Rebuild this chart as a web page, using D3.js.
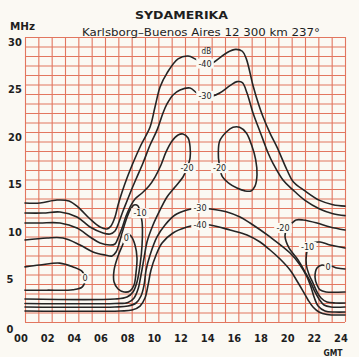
<!DOCTYPE html>
<html>
<head>
<meta charset="utf-8">
<script src="https://cdn.jsdelivr.net/npm/d3@7/dist/d3.min.js"></script>
<style>
  html, body { margin: 0; padding: 0; background: #fbf9f3; }
  svg { display: block; }
  text { font-family: "DejaVu Sans Condensed", "DejaVu Sans", sans-serif; fill: #1e1e1e; }
</style>
</head>
<body>
<svg id="chart" width="359" height="357"></svg>
<script>
// Axis ticks
const hourTicks = [0, 2, 4, 6, 8, 10, 12, 14, 16, 18, 20, 22, 24];
const mhzTicks = [0, 5, 10, 15, 20, 25, 30];

// Field-strength contours, [hour GMT, MHz]
const m40Upper = [[0,12.53],[1.13,12.53],[2.4,12.84],[3.3,12.74],[3.98,12.1],[4.88,10.84],[5.63,10.0],[6.15,9.79],[6.45,10.1],[6.75,11.05],[6.98,12.32],[7.28,13.68],[7.65,15.16],[8.1,16.74],[8.7,18.63],[9.38,20.53],[9.75,22.63],[10.13,24.74],[10.65,26.2],[11.48,27.7],[12.23,28.0],[12.75,27.7],[13.13,27.37],[13.5,27.2],[14.1,27.3],[14.6,27.8],[15.2,28.4],[15.8,28.7],[16.3,28.5],[16.6,27.7],[17.1,24.9],[17.5,23.0],[17.85,21.6],[18.4,19.8],[18.9,18.4],[19.65,16.0],[20.1,14.8],[21.0,13.8],[22.1,12.8],[23.1,12.35],[24,12.2]];
const m30Upper = [[0,11.47],[1.35,11.47],[2.63,11.58],[3.9,11.05],[4.88,10.0],[5.85,9.37],[6.38,9.26],[6.75,9.58],[7.05,10.53],[7.35,11.68],[7.65,12.74],[7.95,13.79],[8.33,15.05],[8.85,16.74],[9.38,18.63],[9.9,20.2],[10.35,22.0],[10.65,22.95],[11.1,23.9],[11.63,24.42],[12.38,24.63],[12.9,24.1],[13.5,23.8],[14.1,23.8],[14.6,24.1],[15.4,24.9],[15.9,25.3],[16.3,25.2],[16.65,24.1],[17.1,22.0],[17.5,20.5],[17.85,19.2],[18.2,17.9],[18.6,16.7],[19.35,14.95],[20.1,13.9],[21.0,12.8],[22.1,11.9],[23.1,11.4],[24,11.2]];
const m20Night = [[0,10.42],[1.13,10.42],[2.63,10.42],[3.9,9.89],[4.88,8.95],[5.63,8.32],[6.38,8.1],[6.75,8.21],[6.98,8.84],[7.28,9.89],[7.58,11.16],[7.88,12.1],[8.25,12.95],[8.78,13.58],[9.3,14.32],[9.75,15.26],[10.2,16.53],[10.58,17.9],[11.03,19.05],[11.48,19.68],[11.85,19.79],[12.23,19.37],[12.38,18.42],[12.38,17.26],[12.15,16.21],[11.85,15.26],[11.25,14.21],[10.65,13.16],[10.13,11.79],[9.6,10.21],[9.15,8.42],[8.93,6.74],[8.7,4.95],[8.48,3.47],[8.18,2.53],[7.73,2.05],[6.75,1.95],[0,1.95]];
const m20Afternoon = [[15.6,20.5],[15.1,20.0],[14.6,19.05],[14.5,17.8],[14.55,16.8],[14.8,15.3],[15.3,14.6],[15.9,14.1],[16.5,13.8],[16.95,13.8],[17.25,14.3],[17.4,15.5],[17.3,17.1],[17.0,18.6],[16.6,19.9],[16.1,20.5]];
const m20Evening = [[24,9.68],[22.88,10.0],[21.9,10.42],[20.85,10.74],[20.33,10.74],[20.03,10.42],[19.65,9.89],[19.5,9.05],[19.8,7.79],[20.48,6.53],[21.0,5.26],[21.45,4.1],[21.75,3.16],[22.05,2.42],[22.43,1.79],[22.95,1.58],[24,1.58]];
const m10Night = [[0,8.63],[1.65,8.84],[2.85,8.84],[4.13,8.1],[5.1,7.37],[6.0,7.05],[6.53,6.95],[6.83,7.37],[7.05,8.21],[7.28,9.37],[7.58,10.74],[7.88,11.79],[8.18,12.32],[8.48,12.21],[8.63,11.47],[8.78,10.53],[8.78,8.1],[8.63,6.0],[8.4,4.21],[8.1,3.16],[7.65,2.63],[6.75,2.42],[0,2.42]];
const m10Evening = [[24,7.79],[22.88,8.1],[22.13,8.42],[21.6,8.32],[21.25,7.85],[21.1,7.0],[21.1,6.0],[21.3,5.0],[21.6,4.1],[21.9,3.16],[22.2,2.53],[22.65,2.1],[23.3,2.0],[24,2.0]];
const zeroNight = [[0,5.8],[1.1,6.0],[2.6,6.2],[3.6,5.8],[4.3,5.3],[4.5,4.6],[4.3,3.7],[3.6,3.4],[1.65,3.35],[0,3.35]];
const zeroMorning = [[7.65,9.26],[7.35,8.21],[6.98,6.95],[6.68,5.47],[6.68,4.21],[6.98,3.47],[7.43,3.16],[7.88,3.26],[8.18,3.89],[8.33,5.26],[8.4,6.74],[8.25,8.1],[7.95,9.05]];
const zeroEvening = [[24,5.58],[23.4,5.68],[22.95,5.9],[22.73,5.85],[22.28,6.0],[21.9,5.68],[21.75,4.74],[21.9,3.89],[22.13,3.37],[22.58,3.16],[24,3.16]];
const m30Lower = [[0,1.58],[6.75,1.58],[7.73,1.68],[8.33,2.0],[8.7,2.74],[8.93,3.89],[9.08,5.47],[9.38,7.05],[9.9,8.95],[10.5,10.21],[11.25,11.26],[12.15,11.79],[12.9,12.0],[13.13,12.0],[13.88,11.9],[15.15,11.58],[16.13,11.05],[16.88,10.42],[18.38,8.95],[19.88,7.26],[20.63,6.0],[21.15,4.74],[21.45,3.68],[21.68,2.63],[21.98,1.68],[22.5,1.16],[23.25,1.05],[24,1.05]];
const m40Lower = [[0,1.16],[7.13,1.16],[8.03,1.26],[8.63,1.68],[9.0,2.53],[9.23,3.89],[9.45,5.47],[9.83,7.05],[10.28,8.32],[11.1,9.37],[12.15,10.0],[12.9,10.21],[13.13,10.21],[13.88,10.21],[15.38,9.68],[16.65,9.16],[17.63,8.42],[18.38,7.58],[19.13,6.63],[19.88,5.47],[20.4,4.32],[20.85,3.26],[21.23,2.32],[21.6,1.58],[22.05,1.05],[22.65,0.79],[24,0.74]];

const openContours = [m40Upper, m30Upper, m20Night, m20Evening, m10Night, m10Evening, zeroNight, zeroEvening, m30Lower, m40Lower];
const closedContours = [m20Afternoon, zeroMorning];

// Level labels: [hour, MHz, text]
const levelLabels = [
  [13.5, 27.2, "-40"], [13.5, 23.8, "-30"],
  [12.15, 16.2, "-20"], [14.6, 16.2, "-20"],
  [13.13, 12.0, "-30"], [13.13, 10.2, "-40"],
  [8.63, 11.45, "-10"], [7.6, 8.8, "0"], [4.5, 4.6, "0"],
  [19.35, 9.9, "-20"], [21.2, 7.9, "-10"], [22.73, 5.8, "0"]
];

const title = "SYDAMERIKA";
const subtitle = "Karlsborg\u2013Buenos Aires 12 300 km 237\u00b0";

const svg = d3.select("#chart");
const plotLeft = 25, plotRight = 345, plotTop = 37, plotBottom = 322;
const x = d3.scaleLinear().domain([0, 24]).range([plotLeft, plotRight]);
const y = d3.scaleLinear().domain([0, 30]).range([plotBottom, plotTop]);

// Red millimetre-style grid: one line per hour and per MHz
const gridColor = "#e2765f";
svg.append("g")
  .attr("transform", `translate(0,${plotBottom})`)
  .call(d3.axisBottom(x).tickValues(d3.range(0, 25)).tickSize(-(plotBottom - plotTop)).tickFormat(""))
  .call(g => g.select(".domain").remove())
  .selectAll("line").attr("stroke", gridColor).attr("stroke-width", 1.1);
svg.append("g")
  .attr("transform", `translate(${plotLeft},0)`)
  .call(d3.axisLeft(y).tickValues(d3.range(0, 31)).tickSize(-(plotRight - plotLeft)).tickFormat(""))
  .call(g => g.select(".domain").remove())
  .selectAll("line").attr("stroke", gridColor).attr("stroke-width", 1.1);

// Tick labels
const tickFont = "'DejaVu Sans Condensed', 'DejaVu Sans', sans-serif";
const xAxis = svg.append("g")
  .attr("transform", `translate(-4.5,${plotBottom})`)
  .call(d3.axisBottom(x).tickValues(hourTicks).tickSize(0).tickPadding(12)
    .tickFormat(d => String(d).padStart(2, "0")));
xAxis.select(".domain").remove();
xAxis.selectAll("text").attr("font-size", 11).attr("font-weight", "bold")
  .attr("font-family", tickFont).attr("fill", "#1e1e1e");

const yAxis = svg.append("g")
  .attr("transform", "translate(0,4.5)")
  .call(d3.axisLeft(y).tickValues(mhzTicks).tickSize(0).tickPadding(0));
yAxis.select(".domain").remove();
yAxis.selectAll("text").attr("font-size", 11).attr("font-weight", "bold")
  .attr("font-family", tickFont).attr("fill", "#1e1e1e")
  .attr("text-anchor", "middle")
  .attr("x", d => d >= 10 ? 15 : 10)
  .attr("dy", d => d === 0 ? "0.55em" : "0.32em");

// Contours
const lineOpen = d3.line().x(d => x(d[0])).y(d => y(d[1])).curve(d3.curveCatmullRom.alpha(0.5));
const lineClosed = d3.line().x(d => x(d[0])).y(d => y(d[1])).curve(d3.curveCatmullRomClosed.alpha(0.5));
const cg = svg.append("g").attr("fill", "none").attr("stroke", "#242424")
  .attr("stroke-width", 1.6).attr("stroke-linejoin", "round").attr("stroke-linecap", "round");
cg.selectAll("path.open").data(openContours).join("path").attr("class", "open").attr("d", lineOpen);
cg.selectAll("path.closed").data(closedContours).join("path").attr("class", "closed").attr("d", lineClosed);

// Level labels sit on a paper-coloured patch over the line
const lg = svg.append("g");
levelLabels.forEach(([h, f, t]) => {
  const w = t.length * 5.2 + 2;
  lg.append("rect").attr("x", x(h) - w / 2).attr("y", y(f) - 5).attr("width", w).attr("height", 10)
    .attr("fill", "#fbf9f3");
  lg.append("text").attr("x", x(h)).attr("y", y(f)).attr("text-anchor", "middle")
    .attr("dominant-baseline", "central").attr("font-size", 9).attr("fill", "#333").text(t);
});
lg.append("text").attr("x", x(13.6)).attr("y", y(28.5)).attr("text-anchor", "middle")
  .attr("dominant-baseline", "central").attr("font-size", 8).attr("fill", "#333").text("dB");

// Titles and units
svg.append("text").attr("x", 135).attr("y", 18.5)
  .attr("font-size", 10.5).attr("font-weight", "bold")
  .attr("textLength", 93).attr("lengthAdjust", "spacingAndGlyphs").text(title);
svg.append("text").attr("x", 82).attr("y", 35.5)
  .attr("font-size", 10)
  .attr("textLength", 238).attr("lengthAdjust", "spacingAndGlyphs").text(subtitle);
svg.append("text").attr("x", 10).attr("y", 30).attr("font-size", 10).attr("font-weight", "bold")
  .attr("textLength", 25).attr("lengthAdjust", "spacingAndGlyphs").text("MHz");
svg.append("text").attr("x", 333).attr("y", 356).attr("text-anchor", "middle")
  .attr("font-size", 8.5).attr("font-weight", "bold").text("GMT");
</script>
</body>
</html>
